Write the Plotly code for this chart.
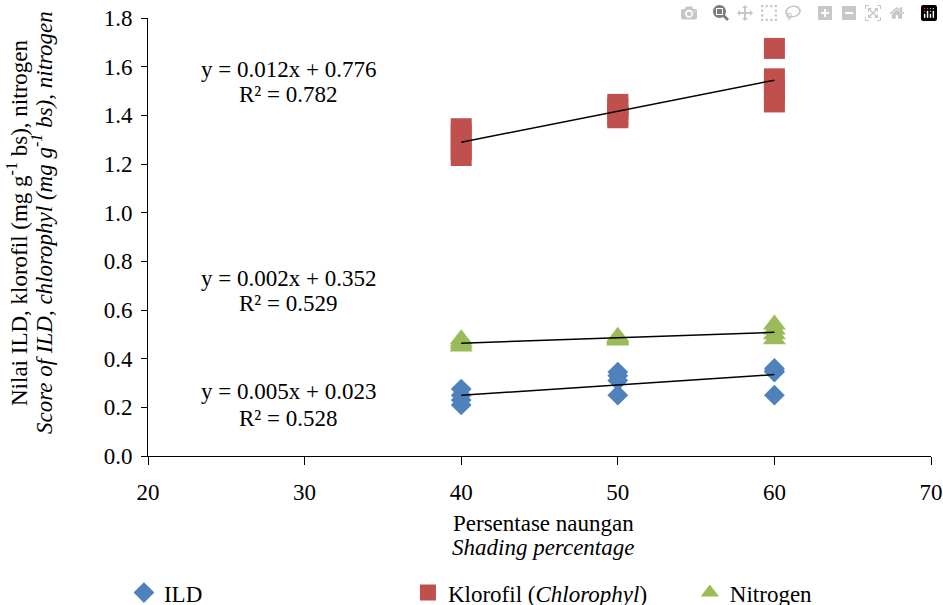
import numpy as np
import plotly.graph_objects as go

# Shading percentage (x) for each replicate
x_ild = [40, 40, 40, 40, 50, 50, 50, 50, 60, 60, 60, 60]
ild = [0.21, 0.23, 0.25, 0.275, 0.345, 0.33, 0.31, 0.25, 0.36, 0.35, 0.345, 0.25]

x_klo = [40, 40, 40, 40, 50, 50, 50, 50, 60, 60, 60, 60]
klorofil = [1.235, 1.26, 1.32, 1.345, 1.39, 1.40, 1.43, 1.445, 1.455, 1.50, 1.55, 1.675]

x_nit = [40, 40, 40, 40, 50, 50, 50, 50, 60, 60, 60, 60]
nitrogen = [0.45, 0.46, 0.47, 0.48, 0.475, 0.48, 0.485, 0.49, 0.48, 0.50, 0.52, 0.54]

eq_text = ["y = 0.012x + 0.776", "y = 0.002x + 0.352", "y = 0.005x + 0.023"]
r2_text = ["R² = 0.782", "R² = 0.529", "R² = 0.528"]
eq_x = [28.94, 28.94, 28.94]
eq_y = [1.590, 0.7315, 0.267]
r2_y = [1.484, 0.6247, 0.156]

x_ticks = [20, 30, 40, 50, 60, 70]
y_ticks = [0.0, 0.2, 0.4, 0.6, 0.8, 1.0, 1.2, 1.4, 1.6, 1.8]

FONT = "Liberation Serif, Times New Roman, serif"
FS = 23
C_ILD = "#4F81BD"
C_KLO = "#C0504D"
C_NIT = "#9BBB59"

fig = go.Figure()

fig.add_trace(go.Scatter(x=x_ild, y=ild, mode="markers", name="ILD", legend="legend",
                         marker=dict(symbol="diamond", size=16, color=C_ILD)))
fig.add_trace(go.Scatter(x=x_klo, y=klorofil, mode="markers", legend="legend2",
                         name="Klorofil (<i>Chlorophyl</i>)",
                         marker=dict(symbol="square", size=21, color=C_KLO)))
fig.add_trace(go.Scatter(x=x_nit, y=nitrogen, mode="markers", name="Nitrogen",
                         legend="legend3",
                         marker=dict(symbol="triangle-up", size=20, color=C_NIT)))

# linear trendlines fitted from the data
for xs, ys in [(x_klo, klorofil), (x_nit, nitrogen), (x_ild, ild)]:
    m, b = np.polyfit(xs, ys, 1)
    xl = [min(xs), max(xs)]
    fig.add_trace(go.Scatter(x=xl, y=[m * v + b for v in xl], mode="lines",
                             line=dict(color="black", width=1.5),
                             showlegend=False, hoverinfo="skip"))

for t, xx, yy in zip(eq_text, eq_x, eq_y):
    fig.add_annotation(x=xx, y=yy, xref="x", yref="y", text=t, showarrow=False,
                       xanchor="center", yanchor="middle",
                       font=dict(family=FONT, size=FS, color="black"))
for t, xx, yy in zip(r2_text, eq_x, r2_y):
    fig.add_annotation(x=xx, y=yy, xref="x", yref="y", text=t, showarrow=False,
                       xanchor="center", yanchor="middle",
                       font=dict(family=FONT, size=FS, color="black"))

# axis titles (two lines each)
fig.add_annotation(xref="paper", yref="paper", x=-0.166, y=0.532,
                   text="Nilai ILD, klorofil (mg g<sup>-1</sup> bs), nitrogen",
                   textangle=-90, showarrow=False, xanchor="center", yanchor="middle",
                   font=dict(family=FONT, size=FS, color="black"))
fig.add_annotation(xref="paper", yref="paper", x=-0.134, y=0.532,
                   text="<i>Score of ILD, chlorophyl (mg g<sup>-1</sup> bs), nitrogen</i>",
                   textangle=-90, showarrow=False, xanchor="center", yanchor="middle",
                   font=dict(family=FONT, size=FS, color="black"))
fig.add_annotation(xref="paper", yref="paper", x=0.5045, y=-0.153,
                   text="Persentase naungan",
                   showarrow=False, xanchor="center", yanchor="middle",
                   font=dict(family=FONT, size=FS, color="black"))
fig.add_annotation(xref="paper", yref="paper", x=0.5045, y=-0.21,
                   text="<i>Shading percentage</i>",
                   showarrow=False, xanchor="center", yanchor="middle",
                   font=dict(family=FONT, size=FS, color="black"))

fig.update_xaxes(range=[20, 70], tickvals=x_ticks, ticktext=[str(v) for v in x_ticks],
                 showgrid=False, zeroline=False, showline=True, linecolor="black",
                 linewidth=1, ticks="outside", ticklen=8, tickcolor="black",
                 ticklabelstandoff=7, ticklabeloverflow="allow",
                 tickfont=dict(family=FONT, size=FS, color="black"))
fig.update_yaxes(range=[0, 1.8], tickvals=y_ticks,
                 ticktext=[f"{v:.1f}" for v in y_ticks],
                 showgrid=False, zeroline=False, showline=True, linecolor="black",
                 linewidth=1, ticks="outside", ticklen=6, tickcolor="black",
                 ticklabelstandoff=4, ticklabeloverflow="allow",
                 tickfont=dict(family=FONT, size=FS, color="black"))

leg_common = dict(orientation="h", xanchor="left", y=-0.312, yanchor="middle",
                  font=dict(family=FONT, size=FS, color="black"),
                  bgcolor="rgba(0,0,0,0)", borderwidth=0)

fig.update_layout(
    width=943, height=605,
    margin=dict(l=148, r=12, t=18, b=149, autoexpand=False),
    plot_bgcolor="white", paper_bgcolor="white",
    font=dict(family=FONT, size=FS, color="black"),
    legend=dict(x=-0.0307, **leg_common),
    legend2=dict(x=0.332, **leg_common),
    legend3=dict(x=0.692, **leg_common),
)

# remove the default 8 px page margin so the figure fills the window exactly
fig.write_html("out.html",
               post_script="document.body.style.margin='0px';"
                           "document.body.style.overflow='hidden';")
